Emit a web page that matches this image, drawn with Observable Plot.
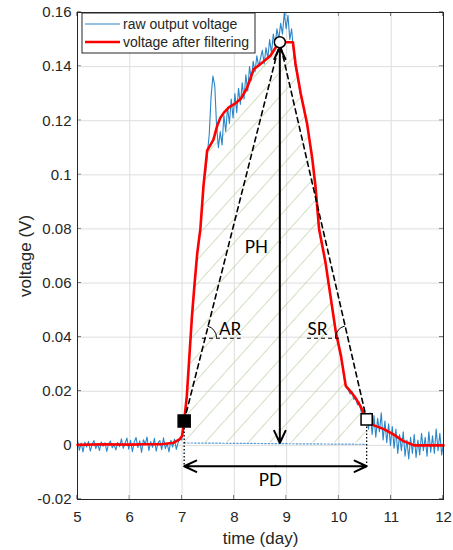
<!DOCTYPE html>
<html><head><meta charset="utf-8">
<script src="https://cdn.jsdelivr.net/npm/d3@7"></script>
<script src="https://cdn.jsdelivr.net/npm/@observablehq/plot@0.6"></script>
<style>
body{margin:0;background:#fff;}
#chart{width:453px;height:550px;}
</style></head><body><div id="chart"></div>
<script>
// ---- axis ticks ----
const xTicks = [5, 6, 7, 8, 9, 10, 11, 12];
const xTickLabels = ["5", "6", "7", "8", "9", "10", "11", "12"];
const yTicks = [-0.02, 0, 0.02, 0.04, 0.06, 0.08, 0.1, 0.12, 0.14, 0.16];
const yTickLabels = ["-0.02", "0", "0.02", "0.04", "0.06", "0.08", "0.1", "0.12", "0.14", "0.16"];
const xLabel = "time (day)";
const yLabel = "voltage (V)";

// ---- raw output voltage (sampled every rawStep days from rawStart) ----
const rawStart = 5;
const rawStep = 0.035;
const rawVoltage = [
  0.0021, -0.0018, 0.0009, -0.0024, 0.0012, -0.0006, 0.0015, -0.0021, 0.0004, 0.0018,
  -0.0012, 0.0007, -0.0019, 0.0013, -0.0003, 0.0010, -0.0022, 0.0006, 0.0016, -0.0009,
  0.0003, -0.0017, 0.0011, -0.0005, 0.0024, -0.0011, 0.0008, 0.0027, -0.0014, 0.0019,
  -0.0023, 0.0012, 0.0029, -0.0008, 0.0017, -0.0026, 0.0021, 0.0005, 0.0031, -0.0019,
  0.0014, -0.0007, 0.0026, -0.0021, 0.0009, 0.0018, -0.0016, 0.0028, -0.0012, 0.0007,
  -0.0024, 0.0019, -0.0006, 0.0023, -0.0015, 0.0011, 0.0025,
  0.0020, 0.0075, 0.0140, 0.0215, 0.0300, 0.0420, 0.0500, 0.0590, 0.0680, 0.0745,
  0.0795, 0.0880, 0.0975, 0.1010, 0.1080, 0.1150, 0.1290, 0.1365, 0.1330, 0.1180,
  0.1100, 0.1160, 0.1110, 0.1220, 0.1160, 0.1250, 0.1190, 0.1280, 0.1210, 0.1300,
  0.1230, 0.1320, 0.1260, 0.1340, 0.1280, 0.1370, 0.1310, 0.1400, 0.1350, 0.1420,
  0.1380, 0.1440, 0.1400, 0.1430, 0.1460, 0.1410, 0.1470, 0.1430, 0.1500, 0.1450,
  0.1520, 0.1480, 0.1540, 0.1500, 0.1560, 0.1520, 0.1600, 0.1540, 0.1590, 0.1500,
  0.1540, 0.1460, 0.1400, 0.1370, 0.1330, 0.1290, 0.1270, 0.1230, 0.1210, 0.1160,
  0.1120, 0.1080, 0.1020, 0.0950, 0.0870, 0.0800, 0.0760, 0.0730, 0.0690, 0.0660,
  0.0600, 0.0570, 0.0510, 0.0470, 0.0430, 0.0390, 0.0360, 0.0320, 0.0290, 0.0240,
  0.0215, 0.0205, 0.0190, 0.0200, 0.0170, 0.0175, 0.0150, 0.0160, 0.0125, 0.0115,
  0.0080, 0.0110, 0.0060, 0.0120, 0.0040, 0.0110, 0.0030, 0.0100, 0.0050, 0.0120,
  0.0020, 0.0090, 0.0010, 0.0080, 0.0000, 0.0070, -0.0010, 0.0060, -0.0030, 0.0040,
  -0.0020, 0.0050, -0.0040, 0.0020, -0.0050, 0.0030, -0.0030, 0.0040, -0.0045, 0.0020,
  -0.0035, 0.0045, -0.0020, 0.0030, -0.0040, 0.0050, -0.0025, 0.0035, -0.0030, 0.0060,
  -0.0020, 0.0045, -0.0035, 0.0010
];

// ---- voltage after filtering ----
const filtTime = [5.0, 5.5, 6.0, 6.3, 6.6, 6.84, 6.95, 7.0, 7.04, 7.09,
  7.14, 7.19, 7.24, 7.29, 7.35, 7.41, 7.48, 7.54, 7.6, 7.67,
  7.73, 7.8, 7.9, 7.99, 8.12, 8.24, 8.37, 8.5, 8.6, 8.69,
  8.82, 8.87, 8.98, 9.12, 9.17, 9.27, 9.39, 9.49, 9.55, 9.62,
  9.74, 9.84, 9.94, 10.04, 10.13, 10.22, 10.32, 10.41, 10.53, 10.67,
  10.86, 11.05, 11.24, 11.44, 11.7, 12.0];
const filtVoltage = [0.0002, 0.0004, 0.0003, 0.0004, 0.0004, 0.0010, 0.0022, 0.0035, 0.0090, 0.0180,
  0.0330, 0.0480, 0.0600, 0.0710, 0.0800, 0.0960, 0.1090, 0.1110, 0.1130, 0.1180,
  0.1210, 0.1230, 0.1250, 0.1260, 0.1280, 0.1320, 0.1390, 0.1410, 0.1425, 0.1440,
  0.1480, 0.1490, 0.1490, 0.1490, 0.1410, 0.1300, 0.1190, 0.1060, 0.0960, 0.0800,
  0.0680, 0.0550, 0.0420, 0.0330, 0.0220, 0.0200, 0.0175, 0.0145, 0.0096, 0.0074,
  0.0060, 0.0040, 0.0015, 0.0000, 0.0000, 0.0000];

// ---- key points: start (filled square), peak (circle), end (open square) ----
const keyName = ["start", "peak", "end"];
const keyTime = [7.04, 8.87, 10.53];
const keyVoltage = [0.009, 0.149, 0.0096];

// ---- baseline (dotted) and PD level ----
const baselineTime = [7.04, 10.53];
const baselineVoltage = [0.0009, 0.0004];
const pdLevel = -0.0077;

// ---- angle guide lines ----
const angleLevel = 0.0396;
const arGuideTime = [7.38, 8.12];
const srGuideTime = [9.39, 10.06];

// ---- annotation labels ----
const labelText = ["PH", "AR", "SR", "PD"];
const labelTime = [8.42, 7.92, 9.59, 8.69];
const labelVoltage = [0.0733, 0.0429, 0.0429, -0.013];

// ---- legend ----
const legendNames = ["raw output voltage", "voltage after filtering"];
const legendColors = ["#2a86c9", "#ff0000"];
const legendWidths = [1.2, 2.6];

// ---------------------------------------------------------------
const raw = rawVoltage.map((v, i) => ({t: rawStart + i * rawStep, v}));
const filt = filtTime.map((t, i) => ({t, v: filtVoltage[i]}));
const keys = keyName.map((n, i) => ({n, t: keyTime[i], v: keyVoltage[i]}));
const [kStart, kPeak, kEnd] = keys;
const hatchData = filt.filter(d => d.t >= kStart.t && d.t <= kEnd.t);
const baseline = baselineTime.map((t, i) => ({t, v: baselineVoltage[i]}));
const labels = labelText.map((s, i) => ({s, t: labelTime[i], v: labelVoltage[i]}));
const guides = [
  {x1: arGuideTime[0], x2: arGuideTime[1], y: angleLevel},
  {x1: srGuideTime[0], x2: srGuideTime[1], y: angleLevel}
];
const phMid = (kPeak.v + baselineVoltage[0]) / 2;
const pdMid = (kStart.t + kEnd.t) / 2;
const arrows = [
  {x1: kPeak.t, y1: phMid, x2: kPeak.t, y2: kPeak.v - 0.0018},
  {x1: kPeak.t, y1: phMid, x2: kPeak.t, y2: baselineVoltage[0]},
  {x1: pdMid, y1: pdLevel, x2: kStart.t, y2: pdLevel},
  {x1: pdMid, y1: pdLevel, x2: kEnd.t, y2: pdLevel}
];
const dropLines = [
  {x: kStart.t, y1: kStart.v, y2: pdLevel},
  {x: kEnd.t, y1: kEnd.v, y2: pdLevel}
];

const INK = "#262626";
const SVGNS = "http://www.w3.org/2000/svg";
function el(parent, name, attrs) {
  const e = document.createElementNS(SVGNS, name);
  for (const k in attrs) e.setAttribute(k, attrs[k]);
  parent.appendChild(e);
  return e;
}

function extras(index, scales, values, dims) {
  const {x, y} = scales;
  const g = document.createElementNS(SVGNS, "g");
  const defs = el(g, "defs", {});
  const pat = el(defs, "pattern", {id: "hatch", patternUnits: "userSpaceOnUse", width: 16, height: 16, patternTransform: "rotate(42)"});
  el(pat, "path", {d: "M0,-2V18", stroke: "#a4c283", "stroke-width": 1, fill: "none"});
  const L = dims.marginLeft, R = dims.width - dims.marginRight;
  const T = dims.marginTop, B = dims.height - dims.marginBottom;
  let d = "";
  for (const t of xTicks) {
    const px = x(t);
    d += `M${px},${B}V${B - 4}M${px},${T}V${T + 4}`;
  }
  for (const t of yTicks) {
    const py = y(t);
    d += `M${L},${py}H${L + 4}M${R},${py}H${R - 4}`;
  }
  el(g, "path", {d, stroke: INK, "stroke-width": 1, fill: "none"});
  return g;
}

function angleArcs(index, scales) {
  const {x, y} = scales;
  const g = document.createElementNS(SVGNS, "g");
  const r = 12;
  const make = (a, b, side) => {
    const f = (angleLevel - a.v) / (b.v - a.v);
    const cx = x(a.t + f * (b.t - a.t)), cy = y(angleLevel);
    const dxl = x(b.t) - x(a.t), dyl = y(b.v) - y(a.v);
    const ang = Math.atan2(dyl, dxl);
    const base = side > 0 ? 0 : Math.PI;
    const p1 = [cx + r * Math.cos(base), cy + r * Math.sin(base)];
    const p2 = [cx + r * Math.cos(ang), cy + r * Math.sin(ang)];
    const sweep = side > 0 ? 0 : 1;
    el(g, "path", {d: `M${p1[0]},${p1[1]} A${r},${r} 0 0 ${sweep} ${p2[0]},${p2[1]}`, fill: "none", stroke: "#000", "stroke-width": 1});
  };
  make(kStart, kPeak, 1);
  make(kEnd, kPeak, -1);
  return g;
}

function legend(index, scales, values, dims) {
  const g = document.createElementNS(SVGNS, "g");
  const x0 = dims.marginLeft + 5, y0 = dims.marginTop + 1;
  el(g, "rect", {x: x0, y: y0, width: 173, height: 40, fill: "white", stroke: INK, "stroke-width": 1});
  legendNames.forEach((name, i) => {
    const ly = y0 + 11 + i * 18;
    el(g, "path", {d: `M${x0 + 3},${ly}H${x0 + 38}`, stroke: legendColors[i], "stroke-width": legendWidths[i], fill: "none"});
    const t = el(g, "text", {x: x0 + 41, y: ly, dy: "0.35em", fill: INK, "text-anchor": "start", "font-size": 14});
    t.textContent = name;
  });
  return g;
}

const plot = Plot.plot({
  width: 453,
  height: 550,
  marginTop: 12,
  marginBottom: 51,
  marginLeft: 77,
  marginRight: 10,
  style: {font: "15px 'Liberation Sans', Arial, sans-serif", color: INK, background: "white", overflow: "visible"},
  x: {domain: [5, 12]},
  y: {domain: [-0.02, 0.16]},
  marks: [
    extras,
    Plot.gridX(xTicks, {stroke: "#dedede", strokeOpacity: 1}),
    Plot.gridY(yTicks, {stroke: "#dedede", strokeOpacity: 1}),
    Plot.axisX(xTicks, {tickSize: 0, tickPadding: 12, tickFormat: d => xTickLabels[xTicks.indexOf(d)], label: null}),
    Plot.axisY(yTicks, {tickSize: 0, tickPadding: 6, tickFormat: d => yTickLabels[yTicks.indexOf(d)], label: null}),
    Plot.text([xLabel], {frameAnchor: "bottom", lineAnchor: "middle", textAnchor: "middle", dy: 39, fontSize: 17, fill: INK}),
    Plot.text([yLabel], {frameAnchor: "left", lineAnchor: "middle", textAnchor: "middle", rotate: -90, dx: -52, fontSize: 17, fill: INK}),
    Plot.areaY(hatchData, {x: "t", y1: baselineVoltage[0], y2: "v", fill: "url(#hatch)"}),
    Plot.line(baseline, {x: "t", y: "v", stroke: "#5b9bd5", strokeWidth: 1.2, strokeDasharray: "1.5,2"}),
    Plot.line(raw, {x: "t", y: "v", stroke: legendColors[0], strokeWidth: 1.1}),
    Plot.line(filt, {x: "t", y: "v", stroke: legendColors[1], strokeWidth: 2.6}),
    Plot.line(keys, {x: "t", y: "v", stroke: "#000", strokeWidth: 1.6, strokeDasharray: "5,4"}),
    Plot.link(guides, {x1: "x1", x2: "x2", y1: "y", y2: "y", stroke: "#000", strokeWidth: 1, strokeDasharray: "4,3"}),
    angleArcs,
    Plot.link(dropLines, {x1: "x", x2: "x", y1: "y1", y2: "y2", stroke: "#000", strokeWidth: 1.3, strokeDasharray: "1.5,2"}),
    Plot.arrow(arrows, {x1: "x1", y1: "y1", x2: "x2", y2: "y2", stroke: "#000", strokeWidth: 2, headLength: 10, headAngle: 50}),
    Plot.dot([kStart], {x: "t", y: "v", symbol: "square", r: 6.8, fill: "#000", stroke: "#000"}),
    Plot.dot([kEnd], {x: "t", y: "v", symbol: "square", r: 6.3, fill: "white", stroke: "#000", strokeWidth: 1.5}),
    Plot.dot([kPeak], {x: "t", y: "v", r: 5.5, fill: "white", stroke: "#000", strokeWidth: 1.5}),
    Plot.text(labels, {x: "t", y: "v", text: "s", fontSize: 17, fontFamily: "Lato, 'Open Sans', sans-serif", fill: "#000"}),
    legend,
    Plot.frame({stroke: INK, strokeWidth: 1})
  ]
});
document.getElementById("chart").appendChild(plot);
</script>
</body></html>
